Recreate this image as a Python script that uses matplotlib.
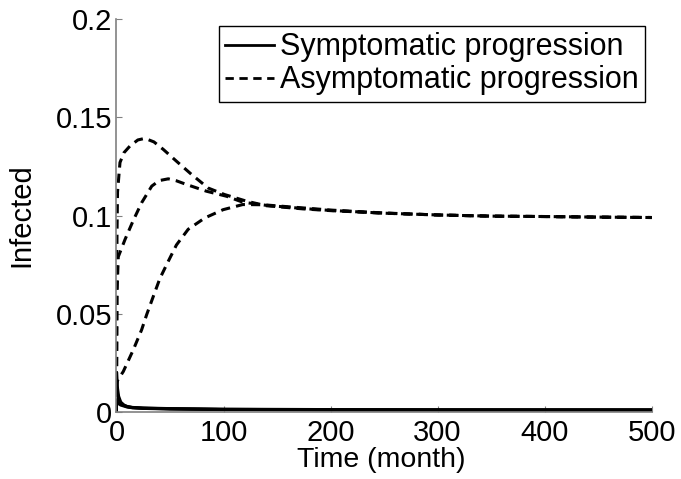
import numpy as np
import matplotlib
matplotlib.use('Agg')
from matplotlib import pyplot as plt

# asymptomatic progression runs (dashed)
t_a1 = [0, 0.5, 1, 3.3, 7, 12.6, 20, 26.6, 35, 43.7, 56, 70, 85.7, 101, 121.6, 140, 174, 200, 250, 300, 350, 400, 450, 500]
v_a1 = [0.0, 0.09, 0.112, 0.127, 0.132, 0.1354, 0.1385, 0.1393, 0.1375, 0.1337, 0.1277, 0.121, 0.114, 0.1107, 0.1073,
        0.105, 0.1034, 0.1025, 0.1012, 0.1003, 0.0997, 0.0995, 0.0992, 0.099]

t_a2 = [0, 0.5, 1.7, 8, 15.7, 23.5, 33, 40, 48.4, 56, 65.5, 84, 103, 118, 140, 174, 200, 250, 300, 350, 400, 450, 500]
v_a2 = [0.0, 0.06, 0.079, 0.0878, 0.0975, 0.1065, 0.115, 0.1178, 0.1187, 0.1177, 0.1158, 0.1124, 0.1098, 0.1068,
        0.1052, 0.1036, 0.1026, 0.1012, 0.1003, 0.0997, 0.0995, 0.0992, 0.099]

t_a3 = [0, 1, 6.4, 15.7, 23.5, 28.2, 34.4, 40.6, 48.4, 56, 67, 82.6, 99.7, 118, 137, 160, 200, 250, 300, 350, 400, 450, 500]
v_a3 = [0.012, 0.016, 0.0206, 0.0316, 0.0418, 0.0495, 0.0588, 0.068, 0.0767, 0.085, 0.093, 0.0988, 0.103, 0.1056,
        0.1055, 0.1045, 0.1028, 0.1013, 0.1003, 0.0997, 0.0995, 0.0992, 0.099]

# symptomatic progression runs (solid)
t_s = [0, 1, 2, 4, 7, 10, 15, 25, 50, 100, 200, 300, 500]
v_s1 = [0.02, 0.012, 0.008, 0.005, 0.0035, 0.0028, 0.0023, 0.002, 0.0017, 0.0014, 0.0012, 0.0011, 0.001]
v_s2 = [0.012, 0.009, 0.0065, 0.0045, 0.0033, 0.0027, 0.0022, 0.0019, 0.0016, 0.0013, 0.0011, 0.001, 0.001]
v_s3 = [0.006, 0.005, 0.0042, 0.0035, 0.003, 0.0025, 0.0021, 0.0018, 0.0015, 0.0012, 0.001, 0.001, 0.001]

plt.rcParams['font.family'] = ['Liberation Sans', 'DejaVu Sans']

fig = plt.figure(figsize=(6.81, 4.79), dpi=100)
ax = fig.add_axes([0.171, 0.140, 0.786, 0.820])

dash = (0, (3, 2))
for t, v in [(t_s, v_s1), (t_s, v_s2), (t_s, v_s3)]:
    ax.plot(t, v, color='black', lw=2.2)
for t, v in [(t_a1, v_a1), (t_a2, v_a2), (t_a3, v_a3)]:
    ax.plot(t, v, color='black', lw=2.2, linestyle=dash)

ax.plot([], [], color='black', lw=2, label='Symptomatic progression')
ax.plot([], [], color='black', lw=2, linestyle=dash, label='Asymptomatic progression')

ax.set_xlim(0, 500)
ax.set_ylim(0, 0.2)
ax.set_xticks([0, 100, 200, 300, 400, 500])
ax.set_yticks([0, 0.05, 0.1, 0.15, 0.2])
ax.set_yticklabels(['0', '0.05', '0.1', '0.15', '0.2'])

for s in ['top', 'right']:
    ax.spines[s].set_visible(False)
for s in ['left', 'bottom']:
    ax.spines[s].set_color('#808080')
    ax.spines[s].set_linewidth(1.2)
ax.tick_params(direction='in', length=4, color='#808080', labelsize=21)
ax.tick_params(axis='x', pad=5)
ax.tick_params(axis='y', pad=3)

ax.set_xlabel('Time (month)', fontsize=20.5)
ax.set_ylabel('Infected', fontsize=21)
ax.xaxis.set_label_coords(0.494, -0.088)
ax.yaxis.set_label_coords(-0.152, 0.5)

leg = ax.legend(loc='upper right', bbox_to_anchor=(0.987, 0.982), borderaxespad=0,
                fontsize=22, handlelength=1.6, handletextpad=0.2, labelspacing=0.1,
                borderpad=0.2, fancybox=False, framealpha=1)
leg.get_frame().set_edgecolor('black')
leg.get_frame().set_linewidth(1.0)

fig.savefig('out.png', dpi=100)
